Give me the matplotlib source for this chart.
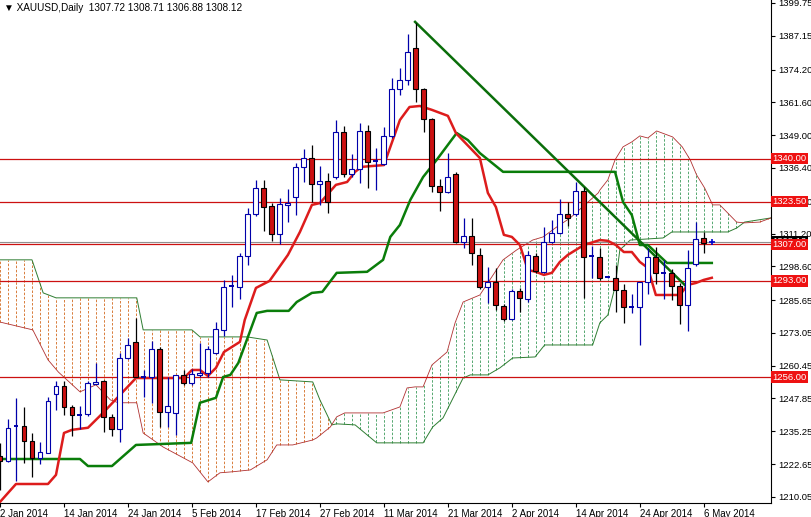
import matplotlib
matplotlib.use("Agg")
import matplotlib.pyplot as plt
import numpy as np

plt.rcParams['font.family'] = ['Liberation Sans', 'DejaVu Sans']

# OHLC per daily bar
opens = [1225.8,1223.9,1237.0,1237.3,1231.6,1225.0,1227.0,1249.6,1252.7,1244.6,
         1241.5,1241.9,1253.5,1254.6,1240.8,1236.2,1263.4,1269.6,1256.0,1256.1,
         1266.9,1242.7,1242.3,1256.9,1253.8,1257.0,1257.7,1265.4,1274.2,1290.8,
         1290.7,1302.6,1318.6,1328.6,1321.8,1311.0,1322.2,1325.3,1336.8,1340.3,
         1330.3,1331.3,1332.9,1350.3,1334.1,1336.0,1350.6,1339.0,1337.9,1348.7,
         1366.7,1370.2,1382.5,1366.7,1355.2,1329.5,1327.2,1334.0,1308.0,1310.3,
         1303.0,1290.5,1292.6,1283.5,1278.4,1289.2,1286.0,1302.6,1296.5,1308.0,
         1311.4,1318.7,1318.7,1327.5,1302.2,1302.2,1294.2,1294.2,1289.6,1283.0,
         1283.0,1292.6,1302.2,1296.0,1296.0,1291.2,1283.8,1299.4,1309.5]
highs = [1230.8,1240.0,1248.1,1244.6,1234.6,1231.2,1248.5,1254.6,1254.6,1245.4,
         1245.0,1254.5,1261.5,1255.0,1242.0,1265.4,1271.0,1278.8,1258.8,1270.0,
         1267.7,1256.0,1257.0,1258.8,1259.0,1269.0,1268.0,1277.3,1293.4,1295.3,
         1303.7,1321.0,1331.7,1331.7,1323.0,1324.9,1328.2,1338.3,1343.7,1345.2,
         1337.0,1334.5,1354.9,1352.5,1341.8,1353.6,1352.9,1344.0,1352.0,1371.0,
         1374.8,1387.8,1392.0,1367.0,1355.6,1332.2,1342.2,1335.0,1317.2,1317.2,
         1305.7,1298.4,1298.0,1284.0,1290.0,1290.4,1304.5,1303.7,1313.7,1316.4,
         1324.5,1323.3,1331.0,1329.0,1306.5,1305.7,1295.0,1299.0,1292.0,1288.0,
         1292.6,1305.7,1306.0,1301.0,1297.4,1292.2,1305.0,1315.6,1311.8]
lows  = [1212.7,1223.5,1216.2,1223.1,1217.7,1222.7,1227.0,1243.5,1241.5,1233.5,
         1236.0,1241.0,1253.5,1235.0,1233.5,1231.2,1263.0,1256.0,1248.5,1246.0,
         1236.9,1236.9,1234.0,1253.0,1253.0,1256.0,1256.0,1265.0,1272.0,1283.0,
         1286.0,1299.0,1318.0,1312.2,1308.4,1307.0,1315.6,1318.3,1331.0,1323.4,
         1322.0,1319.0,1332.0,1333.0,1333.0,1330.6,1328.7,1328.0,1337.5,1348.0,
         1364.4,1368.2,1361.7,1350.2,1327.0,1320.0,1326.8,1307.6,1305.7,1299.0,
         1290.0,1284.5,1282.0,1277.6,1278.0,1281.0,1285.0,1296.0,1296.0,1307.6,
         1311.0,1314.0,1318.0,1286.5,1294.0,1293.5,1294.0,1281.0,1277.0,1280.7,
         1268.4,1288.0,1292.0,1286.0,1285.7,1276.5,1273.8,1298.6,1303.7]
closes = [1223.9,1236.5,1237.4,1231.6,1225.0,1227.3,1247.0,1252.7,1244.6,1241.5,
          1241.8,1253.9,1254.3,1240.8,1236.2,1263.4,1268.4,1256.1,1256.5,1266.9,
          1242.7,1245.0,1256.9,1253.8,1257.3,1257.7,1266.9,1274.6,1290.7,1291.2,
          1302.6,1318.6,1328.6,1321.4,1311.0,1322.6,1323.0,1336.8,1340.3,1330.3,
          1331.3,1323.4,1350.3,1334.1,1336.0,1350.6,1338.7,1339.5,1348.7,1366.7,
          1370.2,1380.9,1366.7,1355.2,1329.5,1327.2,1333.0,1308.0,1310.3,1303.7,
          1290.5,1292.6,1283.9,1278.4,1289.2,1286.5,1303.0,1296.8,1308.0,1311.4,
          1318.7,1317.2,1327.5,1302.2,1302.6,1294.2,1294.6,1289.6,1283.0,1283.3,
          1292.6,1302.2,1296.0,1296.4,1291.2,1283.8,1298.0,1309.1,1307.6]

# Ichimoku lines (bar index, price vertices)
tenkan_x = [0,2,6,7,8,9,11,13,15,17,23,24,25,26,27,28,30,30.6,32,33.7,36,37.5,39,40,42,43.4,44.4,45.2,48,50,51.2,52.5,54,56,57,60,61,62,63,64,65,66,67,68,69,70,71,72,73,75,76,77,78,79,80,81,82,85,86,87,88,89]
tenkan_y = [1208.1,1215.0,1215.0,1218.5,1234.6,1235.8,1236.6,1242.7,1249.2,1255.7,1255.7,1258.8,1258.8,1256.5,1259.6,1265.7,1269.6,1278.0,1290.3,1293.0,1303.0,1311.8,1322.2,1322.9,1329.9,1331.0,1334.9,1336.8,1337.5,1354.8,1359.8,1360.2,1358.7,1356.4,1349.8,1340.2,1326.8,1321.4,1310.7,1309.9,1306.8,1297.2,1296.5,1295.3,1296.1,1300.3,1303.0,1304.9,1306.8,1308.7,1308.4,1306.8,1304.1,1304.1,1300.3,1298.0,1287.6,1287.6,1291.5,1292.2,1293.4,1294.2]
kijun_x = [0,10,11,14,17,23.9,25,27,27.9,28.8,29.8,31,32.1,33.4,36.1,37.1,39,40.3,42.1,45.9,47.9,48.8,50,51.3,52.9,54.6,57.1,58.5,60,62.9,76.9,77.9,79,80,81,83.4,89]
kijun_y = [1224.6,1224.6,1221.9,1221.9,1230.0,1230.8,1246.2,1248.1,1256.1,1256.9,1261.5,1271.5,1280.7,1281.5,1281.5,1284.9,1288.4,1288.8,1296.1,1296.5,1301.1,1309.9,1314.5,1324.1,1332.9,1339.5,1349.8,1347.1,1342.1,1334.9,1334.9,1323.3,1318.3,1306.8,1306.8,1299.9,1299.9]
span_g_x = [0,4,5.4,7,17.1,17.9,24,25,30.9,33.4,35,39.1,40,41.5,42.1,44.4,47.1,52.9,54.1,55.4,57.9,58.8,61,62.5,64.1,66.9,68.1,74.1,75,76,76.9,77.5,78.8,82.9,84,91,92.1,93.1,96.4]
span_g_y = [1301.1,1301.1,1288.4,1286.5,1286.5,1274.2,1274.2,1271.5,1271.5,1270.3,1255.0,1254.2,1247.3,1237.7,1238.1,1237.7,1230.8,1230.8,1236.9,1240.4,1255.7,1256.9,1256.9,1259.6,1263.4,1263.8,1268.4,1268.4,1276.9,1279.9,1290.7,1304.9,1308.7,1309.5,1311.8,1311.8,1313.3,1315.6,1317.2]
span_r_x = [0,4.1,6,7.3,10,12,13.8,14.8,17.1,17.9,20.4,24.1,26,27.5,29.1,31.3,33.4,34.6,36.6,39.1,39.6,41.3,42.1,43.1,47.9,50,50.9,51.9,52.9,54,55.9,56.9,57.9,60,62.9,64.6,66.6,67.9,69.6,71.3,74.8,75,76,76.9,77.9,79,80,81,82.1,84.1,85.3,86.3,87.1,88.1,89.1,90,92.1,93.1,95,96.4]
span_r_y = [1277.2,1274.2,1262.7,1258.0,1250.4,1253.1,1247.3,1246.2,1246.2,1234.6,1229.2,1223.1,1215.8,1219.3,1219.7,1220.4,1224.3,1230.0,1230.0,1231.9,1232.7,1236.9,1240.8,1242.3,1242.3,1244.6,1251.9,1252.3,1252.3,1260.7,1265.7,1276.9,1284.9,1287.6,1301.1,1304.9,1308.7,1309.9,1313.7,1317.2,1326.8,1327.9,1331.8,1339.5,1344.5,1346.4,1348.7,1347.9,1350.6,1348.3,1344.5,1339.5,1333.7,1328.7,1322.2,1322.2,1315.6,1315.3,1315.6,1317.2]
trend_x = [51.9, 86]
trend_y = [1392.5, 1290.3]

levels = [1340.0, 1323.5, 1307.0, 1293.0, 1256.0]
current = 1308.12
price_ticks = [1399.75,1387.15,1374.20,1361.60,1349.00,1336.40,1323.50,1311.20,1298.60,1285.65,1273.05,1260.45,1247.85,1235.25,1222.65,1210.05]
date_labels = ['2 Jan 2014','14 Jan 2014','24 Jan 2014','5 Feb 2014','17 Feb 2014','27 Feb 2014',
               '11 Mar 2014','21 Mar 2014','2 Apr 2014','14 Apr 2014','24 Apr 2014','6 May 2014']

fig = plt.figure(figsize=(8.11, 5.17), dpi=100)
ax = fig.add_axes([0, 14/517, 771/811, 503/517])
ax.set_xlim(0, 96.4)
ax.set_ylim(1207.7, 1400.9)

# cloud hatching
bars = np.arange(0, 97)
g = np.interp(bars, span_g_x, span_g_y)
r = np.interp(bars, span_r_x, span_r_y)
for b, gv, rv in zip(bars, g, r):
    col = '#d2691e' if gv > rv else '#3a9a5a'
    ax.vlines(b, min(gv, rv), max(gv, rv), colors=col, linestyles=(0, (3, 2)), lw=0.6, zorder=1)
ax.plot(span_g_x, span_g_y, color='#2e7d32', lw=0.7, zorder=2)
ax.plot(span_r_x, span_r_y, color='#b03030', lw=0.6, zorder=2)

# horizontal levels
for lv in levels:
    ax.axhline(lv, color='#cc1111', lw=0.9, zorder=2)
ax.axhline(current, color='#909090', lw=0.8, zorder=2)

# indicator lines
ax.plot(kijun_x, kijun_y, color='#0a7d0a', lw=1.8, zorder=4)
ax.plot(tenkan_x, tenkan_y, color='#dd1c1c', lw=1.8, zorder=4)
ax.plot(trend_x, trend_y, color='#0a6e0a', lw=1.8, zorder=5)

# candles
w = 0.62
for i, (o, h, l, c) in enumerate(zip(opens, highs, lows, closes)):
    bull = c >= o
    wick = '#0000aa' if bull else '#000000'
    ax.vlines(i, l, h, colors=wick, lw=0.9, zorder=6)
    lo, hi = min(o, c), max(o, c)
    if hi - lo < 0.6:
        ax.hlines((o + c) / 2, i - w / 2, i + w / 2, colors=wick, lw=1.4, zorder=7)
    else:
        ax.add_patch(plt.Rectangle((i - w / 2, lo), w, hi - lo,
                                   facecolor='white' if bull else '#cc1111',
                                   edgecolor=wick, lw=0.8, zorder=7))
ax.plot([len(closes)], [current], marker='+', color='#0000cc', ms=5, mew=1.2, zorder=8)

# axes styling
for s in ['top', 'left']:
    ax.spines[s].set_visible(False)
ax.spines['right'].set_color('black')
ax.spines['bottom'].set_color('black')
ax.yaxis.tick_right()
ax.set_yticks(price_ticks)
ax.set_yticklabels([f'{p:.2f}' for p in price_ticks], fontsize=6.8)
ax.tick_params(axis='y', length=3, pad=2)
ax.set_xticks(np.arange(0, 8 * len(date_labels), 8))
ax.set_xticklabels(date_labels, fontsize=7.0, ha='left')
ax.tick_params(axis='x', length=3, pad=1)

# right labels
ax.text(1.002, (current - 1207.7) / 193.2, f'{current:.2f}', transform=ax.transAxes,
        fontsize=6.8, color='white', va='center', ha='left',
        bbox=dict(boxstyle='square,pad=0.15', fc='black', ec='none'), zorder=9, clip_on=False)
for lv in levels:
    ax.text(1.002, (lv - 1207.7) / 193.2, f'{lv:.2f}', transform=ax.transAxes,
            fontsize=6.8, color='white', va='center', ha='left',
            bbox=dict(boxstyle='square,pad=0.15', fc='#ee1111', ec='none'), zorder=10, clip_on=False)

fig.text(4/811, 1 - 8/517, '\u25bc XAUUSD,Daily  1307.72 1308.71 1306.88 1308.12',
         fontsize=7.2, va='center', ha='left')

fig.savefig('out.png', dpi=100)
